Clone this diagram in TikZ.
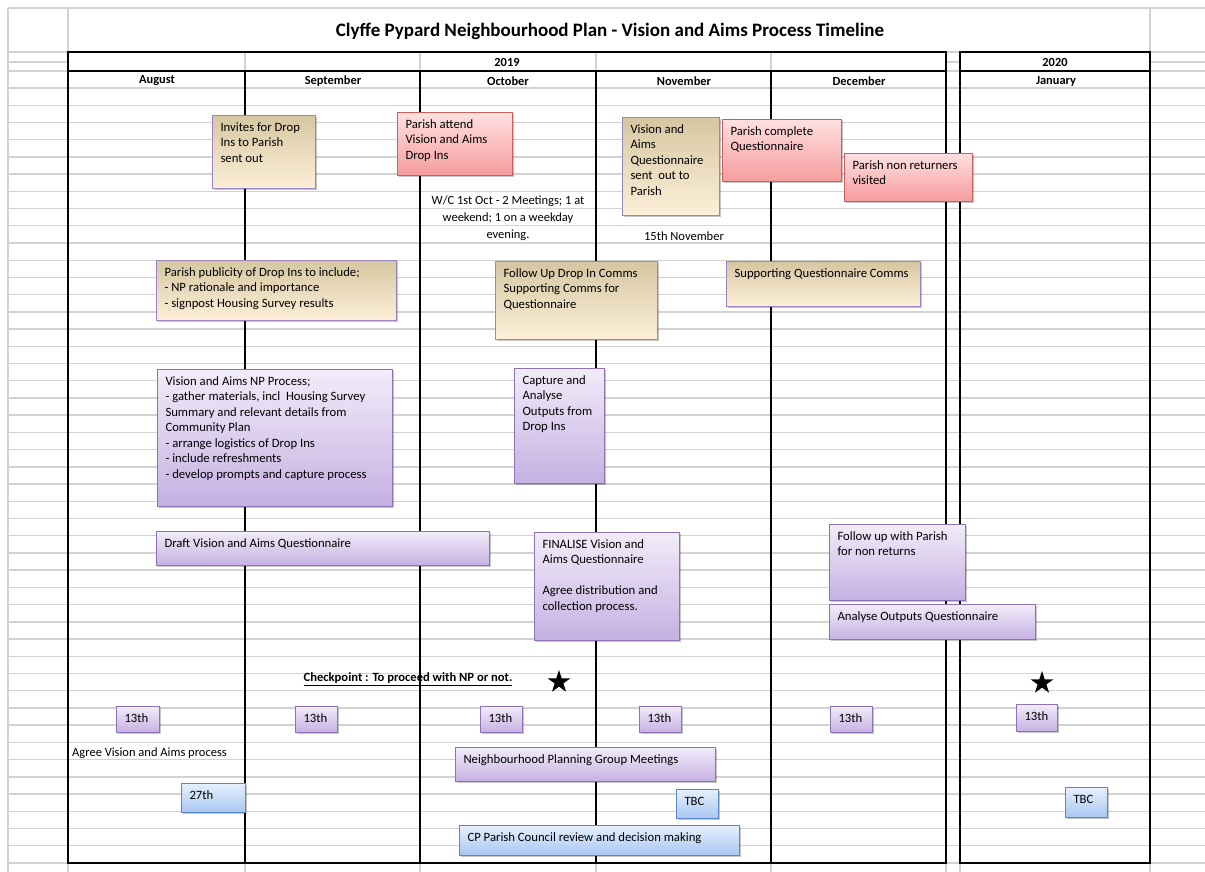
\documentclass[tikz,border=0pt]{standalone}
\usepackage{fontspec}
\setmainfont{Carlito}
\usetikzlibrary{shadows,shapes.geometric}
\definecolor{gridgrey}{HTML}{D2D2D2}
\definecolor{tantop}{HTML}{D6C7A2}
\definecolor{tanbot}{HTML}{FDEFD8}
\definecolor{tanborder}{HTML}{9B83C4}
\definecolor{pinktop}{HTML}{FFE0E0}
\definecolor{pinkbot}{HTML}{F59C9C}
\definecolor{pinkborder}{HTML}{D05C5C}
\definecolor{purptop}{HTML}{F2ECF9}
\definecolor{purpbot}{HTML}{C5B0E2}
\definecolor{purpborder}{HTML}{8D72B8}
\definecolor{bluetop}{HTML}{E6F0FD}
\definecolor{bluebot}{HTML}{A7C6F1}
\definecolor{blueborder}{HTML}{5A88C6}
\newcommand{\boxfont}{\fontsize{12.7}{15.5}\selectfont}
\newcommand{\mkbox}[7]{%
  \pgfmathsetmacro{\mkbw}{#5-#3}\pgfmathsetmacro{\mkbh}{#6-#4}%
  \pgfmathsetmacro{\mktw}{#5-#3-16}\pgfmathsetmacro{\mkth}{#6-#4-10}%
  \node[#2, minimum width=\mkbw pt, minimum height=\mkbh pt] (#1) at (#3,#4)
    {\parbox[c][\mkth pt][t]{\mktw pt}{\raggedright\boxfont\strut #7}};%
}
\begin{document}
\begin{tikzpicture}[x=1pt,y=-1pt,
  grid line/.style={draw=gridgrey, line width=1.4pt},
  frame/.style={draw=black, line width=2.6pt},
  boxbase/.style={rectangle, inner sep=0pt, line width=1pt, anchor=north west,
    drop shadow={shadow xshift=1.2pt, shadow yshift=-1.5pt, fill=black, opacity=0.22}},
  tanbox/.style={boxbase, draw=tanborder, top color=tantop, bottom color=tanbot},
  pinkbox/.style={boxbase, draw=pinkborder, top color=pinktop, bottom color=pinkbot},
  purpbox/.style={boxbase, draw=purpborder, top color=purptop, bottom color=purpbot},
  bluebox/.style={boxbase, draw=blueborder, top color=bluetop, bottom color=bluebot},
  head/.style={font=\fontsize{12.4}{14}\selectfont\bfseries, inner sep=0pt},
  note/.style={font=\fontsize{12.5}{17}\selectfont, inner sep=0pt}]
\useasboundingbox (0,0) rectangle (1205,872);
\fill[white] (0,0) rectangle (1205,872);
% spreadsheet grid
\draw[grid line] (8,8) -- (1205,8);
\foreach \yy in {52,71} \draw[grid line] (8,\yy) -- (1205,\yy);
\draw[grid line] (8,62) -- (68,62) (946,62) -- (960,62) (1150,62) -- (1205,62);
\foreach \k in {0,...,45} \draw[grid line] (8,{88+17.22*\k}) -- (1205,{88+17.22*\k});
\foreach \xx in {8,68,1150} \draw[grid line] (\xx,8) -- (\xx,872);
\foreach \xx in {245,420,596,771,946,960} \draw[grid line] (\xx,52) -- (\xx,872);
% frames
\draw[frame] (68,52) rectangle (946,863);
\draw[frame] (68,71) -- (946,71);
\foreach \xx in {245,420,596,771} \draw[frame] (\xx,71) -- (\xx,863);
\draw[frame] (960,52) rectangle (1150,863);
\draw[frame] (960,71) -- (1150,71);
% headings
\node[font=\fontsize{19}{22}\selectfont\bfseries, inner sep=0pt] (title) at (610,31) {Clyffe Pypard Neighbourhood Plan - Vision and Aims Process Timeline};
\node[head] (y2019) at (507,62) {2019};
\node[head] (y2020) at (1055,62) {2020};
\node[head] (aug) at (157,81) {August};
\node[head] (sep) at (333,81) {September};
\node[head] (oct) at (508,81) {October};
\node[head] (nov) at (684,81) {November};
\node[head] (dec) at (859,81) {December};
\node[head] (jan) at (1056,81) {January};
% boxes
\mkbox{invites}{tanbox}{212}{115}{315}{188}{Invites for Drop\\Ins to Parish\\sent out}
\mkbox{attend}{pinkbox}{397}{112}{512}{175}{Parish attend\\Vision and Aims\\Drop Ins}
\mkbox{sentout}{tanbox}{622}{117}{719}{215}{Vision and\\Aims\\Questionnaire\\sent\ \ out to\\Parish}
\mkbox{complete}{pinkbox}{722}{119}{841}{181}{Parish complete\\Questionnaire}
\mkbox{nonret}{pinkbox}{844}{153}{972}{201}{Parish non returners\\visited}
\mkbox{publicity}{tanbox}{156}{260}{396}{320}{Parish publicity of Drop Ins to include;\\- NP rationale and importance\\- signpost Housing Survey results}
\mkbox{followup}{tanbox}{495}{261}{657}{339}{Follow Up Drop In Comms\\Supporting Comms for\\Questionnaire}
\mkbox{suppcomms}{tanbox}{726}{261}{920}{306}{Supporting Questionnaire Comms}
\mkbox{process}{purpbox}{157}{369}{392}{506}{Vision and Aims NP Process;\\- gather materials, incl\ \ Housing Survey\\Summary and relevant details from\\Community Plan\\- arrange logistics of Drop Ins\\- include refreshments\\- develop prompts and capture process}
\mkbox{capture}{purpbox}{514}{368}{604}{483}{Capture and\\Analyse\\Outputs from\\Drop Ins}
\mkbox{draft}{purpbox}{156}{531}{489}{565}{Draft Vision and Aims Questionnaire}
\mkbox{finalise}{purpbox}{534}{532}{679}{640}{FINALISE Vision and\\Aims Questionnaire\\[15.5pt]Agree distribution and\\collection process.}
\mkbox{followpar}{purpbox}{829}{524}{965}{600}{Follow up with Parish\\for non returns}
\mkbox{analyse}{purpbox}{829}{604}{1035}{639}{Analyse Outputs Questionnaire}
\mkbox{m1}{purpbox}{116}{706}{159}{732}{13th}
\mkbox{m2}{purpbox}{295}{706}{337}{732}{13th}
\mkbox{m3}{purpbox}{480}{706}{522}{732}{13th}
\mkbox{m4}{purpbox}{639}{706}{681}{732}{13th}
\mkbox{m5}{purpbox}{830}{706}{872}{732}{13th}
\mkbox{m6}{purpbox}{1016}{704}{1057}{731}{13th}
\mkbox{npgm}{purpbox}{455}{747}{715}{781}{Neighbourhood Planning Group Meetings}
\mkbox{d27}{bluebox}{181}{783}{245}{812}{27th}
\mkbox{tbc1}{bluebox}{676}{789}{718}{818}{TBC}
\mkbox{tbc2}{bluebox}{1065}{787}{1107}{817}{TBC}
\mkbox{council}{bluebox}{459}{825}{739}{855}{CP Parish Council review and decision making}
% free text
\node[note, align=center] (wc) at (508,218) {W/C 1st Oct - 2 Meetings; 1 at\\weekend; 1 on a weekday\\evening.};
\node[note] (nov15) at (684,236) {15th November};
\node[note, anchor=west] (agree) at (72,753) {Agree Vision and Aims process};
\node[note, font=\fontsize{12.6}{15}\selectfont\bfseries] (check) at (408,679) {\underline{Checkpoint : To proceed with NP or not.}};
\node[star, star points=5, star point ratio=2.6, fill=black, inner sep=0pt, minimum size=24pt] (star1) at (559,682) {};
\node[star, star points=5, star point ratio=2.6, fill=black, inner sep=0pt, minimum size=24pt] (star2) at (1042,683) {};
\end{tikzpicture}
\end{document}
